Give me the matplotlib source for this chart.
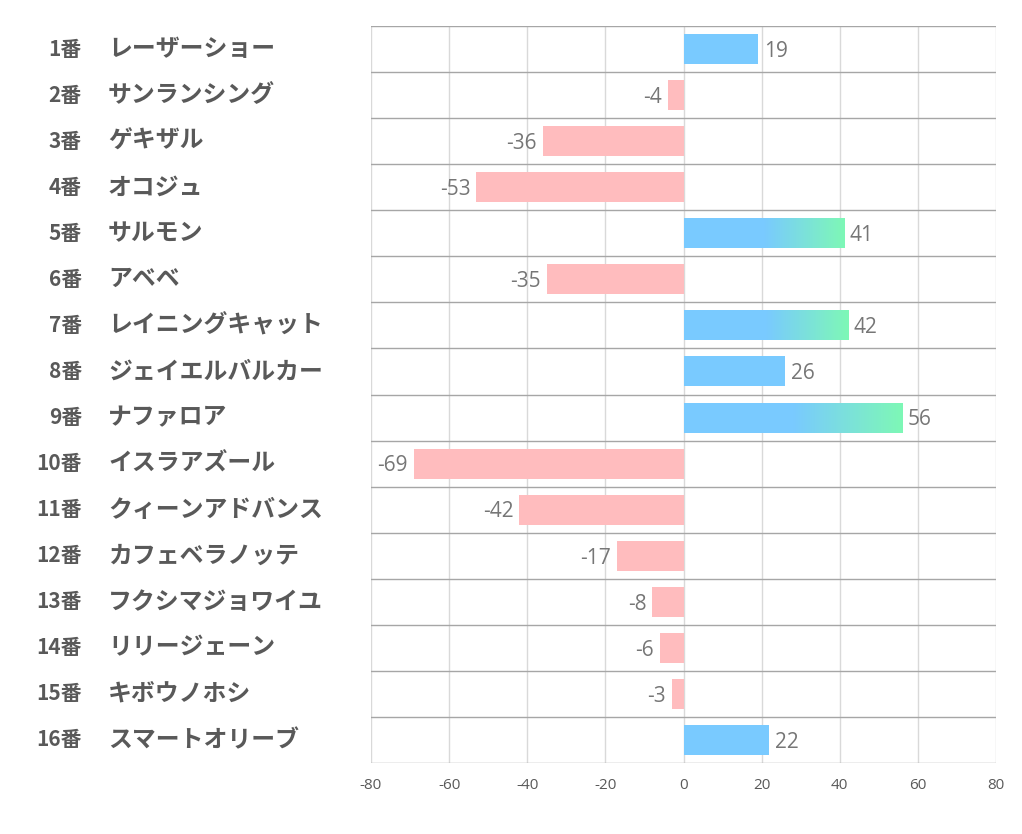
import numpy as np
import matplotlib
matplotlib.use('Agg')
import matplotlib.pyplot as plt
from matplotlib.colors import LinearSegmentedColormap

plt.rcParams['font.family'] = ['Noto Sans CJK JP', 'DejaVu Sans']

# Data
numbers = ['1番', '2番', '3番', '4番', '5番', '6番', '7番', '8番',
           '9番', '10番', '11番', '12番', '13番', '14番', '15番', '16番']
names = ['レーザーショー', 'サンランシング', 'ゲキザル', 'オコジュ', 'サルモン', 'アベベ',
         'レイニングキャット', 'ジェイエルバルカー', 'ナファロア', 'イスラアズール',
         'クィーンアドバンス', 'カフェベラノッテ', 'フクシマジョワイユ', 'リリージェーン',
         'キボウノホシ', 'スマートオリーブ']
values = [19, -4, -36, -53, 41, -35, 42, 26, 56, -69, -42, -17, -8, -6, -3, 22]
xticks = [-80, -60, -40, -20, 0, 20, 40, 60, 80]

BLUE = '#79CAFF'
GREEN = '#7EF8B6'
PINK = '#FFBCBE'
TEXT = '#595959'
LABEL = '#767676'
bar_h = 0.65

fig = plt.figure(figsize=(10.22, 8.34), dpi=100)
ax = fig.add_axes([371 / 1022, 1 - 763 / 834, 625 / 1022, 737 / 834])

y = np.arange(len(values))
colors = [BLUE if v > 0 else PINK for v in values]
ax.barh(y, values, height=bar_h, color=colors, zorder=2)

# gradient overlay on the long positive bars
cmap = LinearSegmentedColormap.from_list('bg', [BLUE, GREEN])
grad = np.linspace(0, 1, 256).reshape(1, -1)
for i, v in enumerate(values):
    if v >= 40:
        ax.imshow(grad, cmap=cmap, aspect='auto', zorder=3,
                  extent=[v * 0.5, v, i + bar_h / 2, i - bar_h / 2],
                  interpolation='bilinear')

# value labels
for i, v in enumerate(values):
    if v > 0:
        ax.text(v + 1.5, i + 0.05, str(v), ha='left', va='center',
                fontsize=15, color=LABEL, family=['Open Sans', 'DejaVu Sans'])
    else:
        ax.text(v - 1.5, i + 0.05, str(v), ha='right', va='center',
                fontsize=15, color=LABEL, family=['Open Sans', 'DejaVu Sans'])

ax.set_xlim(-80, 80)
ax.set_ylim(len(values) - 0.5, -0.5)
ax.set_xticks(xticks)
ax.set_xticklabels([str(t) for t in xticks], fontsize=11, color=TEXT,
                   family=['Open Sans', 'DejaVu Sans'])
ax.tick_params(axis='x', length=0, pad=11)
ax.set_yticks([])

# grid
for t in xticks:
    ax.axvline(t, color='#D9D9D9', lw=1, zorder=1)
for b in np.arange(len(values) + 1) - 0.5:
    ax.axhline(b, color='#A6A6A6', lw=1, zorder=1)
for s in ax.spines.values():
    s.set_visible(False)

# category labels
for i in range(len(values)):
    yy = 1 - (26 + 46.06 * (i + 0.5)) / 834
    fig.text(82 / 1022, yy, numbers[i], ha='right', va='center',
             fontsize=15, fontweight='bold', color=TEXT)
    fig.text(108 / 1022, yy, names[i], ha='left', va='center',
             fontsize=17.2, fontweight='bold', color=TEXT)

fig.savefig('out.png', dpi=100)
